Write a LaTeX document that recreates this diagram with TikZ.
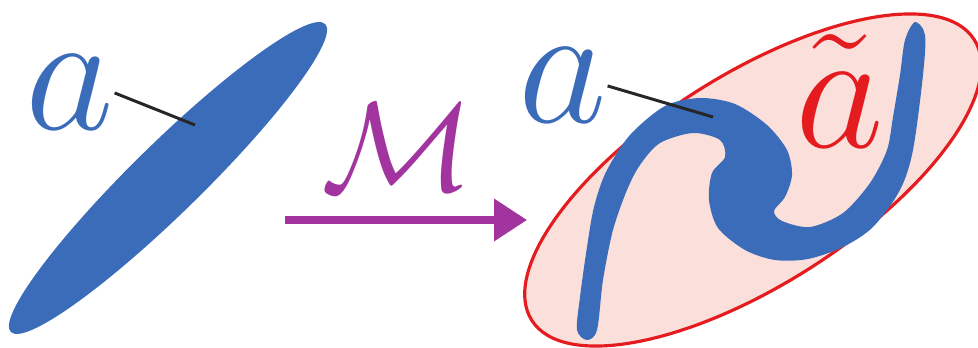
\RequirePackage{fix-cm}
\documentclass[tikz,border=0pt]{standalone}
\usepackage{amsmath, amssymb}
\usepackage{tikz}
\usetikzlibrary{arrows.meta, positioning}
\definecolor{blobblue}{RGB}{58,108,186}
\definecolor{mappurple}{RGB}{162,52,160}
\definecolor{imgred}{RGB}{228,28,32}
\definecolor{imgpink}{RGB}{251,223,218}

\begin{document}
\begin{tikzpicture}[x=0.02cm, y=0.02cm,
        letter/.style={inner sep=0pt, anchor=base, font=\fontsize{98}{98}\selectfont},
        pointer/.style={draw=black!85, line width=1.7pt},
        maparrow/.style={mappurple, line width=4pt, -{Triangle[length=0.66cm, width=0.82cm]}}
    ]
    \useasboundingbox (0,0) rectangle (978,348);
    \fill[blobblue, rotate around={44.4:(168,170)}] (168,170) ellipse (220 and 35);
    \filldraw[fill=imgpink, draw=imgred, line width=1.8pt, rotate around={32.4:(753,168)}] (753,168) ellipse (262 and 105);
    \fill[blobblue] plot[smooth cycle, tension=0.5] coordinates {
        (587,8) (577,18) (580,51) (587,101) (594,141) (606,176) (630,213)
        (665,242) (700,250) (735,244) (767,223) (787,198) (792,173) (785,151)
        (774,137) (782,127) (810,121) (843,135) (870,165) (887,198) (893,231)
        (900,273) (905,308) (915,326) (925,313) (923,273) (913,198) (900,158)
        (873,121) (843,101) (808,89) (775,88) (745,98) (718,120) (709,148)
        (712,175) (725,191) (720,208) (693,215) (660,205) (640,183) (627,158)
        (613,118) (603,68) (597,18)};

    \node[letter, text=blobblue] (la) at (70,218) {$a$};
    \coordinate (lp) at (195,223);
    \draw[pointer] (la.east) -- (lp);

    \node[letter, text=blobblue] (ra) at (563,225) {$a$};
    \coordinate (rp) at (713,231);
    \draw[pointer] (ra.east) -- (rp);
    \node[letter, text=imgred] (ta) at (840,200) {$\tilde{a}$};

    \coordinate (ms) at (285,128);
    \coordinate (me) at (527,128);
    \draw[maparrow] (ms) -- (me);
    \node[text=mappurple, inner sep=0pt, font=\fontsize{72}{72}\selectfont] (map) at (397,201) {$\mathcal{M}$};
\end{tikzpicture}
\end{document}
